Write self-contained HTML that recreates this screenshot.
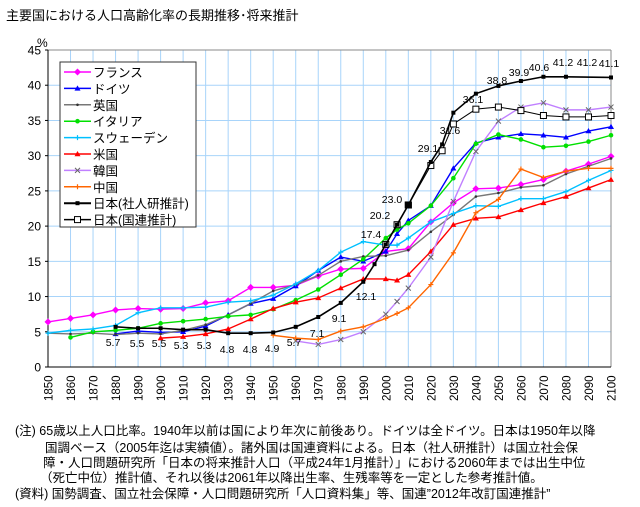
<!DOCTYPE html>
<html><head><meta charset="utf-8"><style>
body{margin:0;background:#fff;width:640px;height:507px;overflow:hidden;font-family:"Liberation Sans","Noto Sans CJK JP",sans-serif;}
.n{position:absolute;font-size:12.5px;white-space:nowrap;color:#000;font-family:"Liberation Sans","Noto Sans CJK JP",sans-serif;}
</style></head><body>
<div class="n" style="left:6px;top:5px;font-size:13px">主要国における人口高齢化率の長期推移･将来推計</div>
<svg id="s" width="640" height="507" style="position:absolute;left:0;top:0" xmlns="http://www.w3.org/2000/svg"></svg>
<div class="n" style="left:15px;top:420px">(注) 65歳以上人口比率。1940年以前は国により年次に前後あり。ドイツは全ドイツ。日本は1950年以降</div>
<div class="n" style="left:45px;top:437px">国調ベース（2005年迄は実績値）。諸外国は国連資料による。日本（社人研推計）は国立社会保</div>
<div class="n" style="left:43px;top:452px">障・人口問題研究所「日本の将来推計人口（平成24年1月推計）」における2060年までは出生中位</div>
<div class="n" style="left:40px;top:467px">（死亡中位）推計値、それ以後は2061年以降出生率、生残率等を一定とした参考推計値。</div>
<div class="n" style="left:15px;top:483px">(資料) 国勢調査、国立社会保障・人口問題研究所「人口資料集」等、国連”2012年改訂国連推計”</div>
<script>
const L=48,R=611,T=50,B=367;
const X=y=>L+(y-1850)*(R-L)/250, Y=v=>B-v*(B-T)/45;
let h='';
for(let y=1860;y<2100;y+=10)h+=`<line x1="${X(y)}" y1="${T}" x2="${X(y)}" y2="${B}" stroke="#a8d4fa" stroke-width="1"/>`;
for(let v=5;v<=40;v+=5)h+=`<line x1="${L}" y1="${Y(v)}" x2="${R}" y2="${Y(v)}" stroke="#a8d4fa" stroke-width="1"/>`;
h+=`<line x1="${L}" y1="${T}" x2="${R}" y2="${T}" stroke="#888"/><line x1="${R}" y1="${T}" x2="${R}" y2="${B}" stroke="#888"/>`;
h+=`<line x1="${L}" y1="${T}" x2="${L}" y2="${B}" stroke="#000"/><line x1="${L}" y1="${B}" x2="${R}" y2="${B}" stroke="#000"/>`;
for(let v=0;v<=45;v+=5){h+=`<line x1="${L-3}" y1="${Y(v)}" x2="${L}" y2="${Y(v)}" stroke="#000"/><text x="${L-7}" y="${Y(v)+4.5}" font-size="12" text-anchor="end">${v}</text>`;}
h+=`<text x="37" y="47" font-size="12">%</text>`;
for(let y=1850;y<=2100;y+=10){h+=`<text transform="translate(${X(y)+4.5},401) rotate(-90)" font-size="11.5">${y}</text>`;}
const S=[
['#ff00ff','dia',[[1850,6.4],[1860,6.9],[1870,7.4],[1880,8.1],[1890,8.3],[1900,8.2],[1910,8.3],[1920,9.1],[1930,9.4],[1940,11.3],[1950,11.3],[1960,11.6],[1970,12.9],[1980,13.9],[1990,14.0],[2000,16.4],[2010,16.8],[2020,20.6],[2030,23.3],[2040,25.3],[2050,25.4],[2060,25.9],[2070,26.6],[2080,27.8],[2090,28.8],[2100,29.9]]],
['#0000ff','tri',[[1880,4.7],[1890,5.1],[1900,4.9],[1910,5.0],[1920,5.8],[1930,7.4],[1940,9.0],[1950,9.7],[1960,11.5],[1970,13.7],[1980,15.6],[1990,15.0],[2000,16.4],[2005,18.9],[2010,20.8],[2020,22.9],[2030,28.2],[2040,31.8],[2050,32.6],[2060,33.1],[2070,32.9],[2080,32.6],[2090,33.5],[2100,34.1]]],
['#777777','dash',[[1850,4.8],[1860,4.7],[1870,4.8],[1880,4.6],[1890,4.8],[1900,4.7],[1910,5.2],[1920,6.0],[1930,7.4],[1940,9.0],[1950,10.8],[1960,11.7],[1970,13.0],[1980,15.0],[1990,15.7],[2000,15.8],[2010,16.6],[2020,19.2],[2030,21.6],[2040,24.2],[2050,24.7],[2060,25.5],[2070,25.8],[2080,27.4],[2090,28.5],[2100,29.6]]],
['#00e000','dot',[[1860,4.2],[1870,5.0],[1880,5.2],[1890,5.5],[1900,6.2],[1910,6.5],[1920,6.8],[1930,7.2],[1940,7.4],[1950,8.2],[1960,9.5],[1970,11.0],[1980,13.1],[1990,15.3],[2000,18.3],[2005,19.5],[2010,20.4],[2020,22.9],[2030,26.8],[2040,31.7],[2050,33.0],[2060,32.3],[2070,31.2],[2080,31.4],[2090,32.0],[2100,32.9]]],
['#00c0ff','plus',[[1850,4.8],[1860,5.2],[1870,5.4],[1880,5.9],[1890,7.7],[1900,8.4],[1910,8.4],[1920,8.5],[1930,9.2],[1940,9.4],[1950,10.2],[1960,11.8],[1970,13.7],[1980,16.3],[1990,17.8],[2000,17.3],[2005,17.3],[2010,18.3],[2020,20.6],[2030,21.8],[2040,22.9],[2050,22.8],[2060,23.9],[2070,23.9],[2080,24.9],[2090,26.5],[2100,27.9]]],
['#ff0000','tri',[[1900,4.1],[1910,4.3],[1920,4.7],[1930,5.4],[1940,6.8],[1950,8.3],[1960,9.2],[1970,9.8],[1980,11.2],[1990,12.5],[2000,12.5],[2005,12.3],[2010,13.1],[2020,16.4],[2030,20.2],[2040,21.1],[2050,21.3],[2060,22.3],[2070,23.3],[2080,24.2],[2090,25.4],[2100,26.6]]],
['#c080ff','x',[[1960,3.7],[1970,3.2],[1980,3.9],[1990,5.0],[2000,7.5],[2005,9.3],[2010,11.2],[2020,15.6],[2030,23.5],[2040,30.6],[2050,34.9],[2060,36.9],[2070,37.5],[2080,36.5],[2090,36.5],[2100,36.9]]],
['#ff6600','plus',[[1950,4.5],[1960,4.1],[1970,3.9],[1980,5.1],[1990,5.7],[2000,6.9],[2005,7.6],[2010,8.4],[2020,11.7],[2030,16.2],[2040,21.9],[2050,23.8],[2060,28.1],[2070,26.9],[2080,27.8],[2090,28.2],[2100,28.2]]],
['#000000','sq',[[2000,17.4],[2005,20.2],[2010,23.0],[2020,28.6],[2025,30.7],[2030,34.5],[2040,36.6],[2050,36.9],[2060,36.4],[2070,35.7],[2080,35.5],[2090,35.5],[2100,35.7]]],
['#000000','fsq',[[1880,5.7],[1890,5.5],[1900,5.5],[1910,5.3],[1920,5.3],[1930,4.8],[1940,4.8],[1950,4.9],[1960,5.7],[1970,7.1],[1980,9.1],[1990,12.1],[1995,14.6],[2000,17.4],[2005,20.2],[2010,23.0],[2020,29.1],[2025,31.6],[2030,36.1],[2040,38.8],[2050,39.9],[2060,40.6],[2070,41.2],[2080,41.2],[2100,41.1]]]
];
function mk(t,c,x,y){
 if(t=='dia')return `<path d="M${x} ${y-3.5}L${x+3.5} ${y}L${x} ${y+3.5}L${x-3.5} ${y}Z" fill="${c}"/>`;
 if(t=='tri')return `<path d="M${x} ${y-3}L${x+3} ${y+2.2}L${x-3} ${y+2.2}Z" fill="${c}"/>`;
 if(t=='dot'||t=='dash')return `<circle cx="${x}" cy="${y}" r="${t=='dot'?2.3:1.3}" fill="${t=='dash'?'#333':c}"/>`;
 if(t=='plus')return `<path d="M${x-2.5} ${y}H${x+2.5}M${x} ${y-2.5}V${y+2.5}" stroke="${c}" stroke-width="1.2"/>`;
 if(t=='x')return `<path d="M${x-2.5} ${y-2.5}L${x+2.5} ${y+2.5}M${x+2.5} ${y-2.5}L${x-2.5} ${y+2.5}" stroke="#666" stroke-width="1"/>`;
 if(t=='sq')return `<rect x="${x-3}" y="${y-3}" width="6" height="6" fill="#fff" stroke="#000"/>`;
 if(t=='fsq')return `<rect x="${x-2}" y="${y-2}" width="4" height="4" fill="#000"/>`;
}
for(const [c,t,d] of S){
 const w=t=='sq'?1:(t=='fsq'?1.6:1.4);
 h+=`<polyline fill="none" stroke="${c}" stroke-width="${w}" points="${d.map(p=>X(p[0])+','+Y(p[1])).join(' ')}"/>`;
 for(const p of d)h+=mk(t,c,X(p[0]),Y(p[1]));
}
h+=`<rect x="${X(2010)-3.5}" y="${Y(23)-3.5}" width="7" height="7" fill="#000"/>`;
const lb=[[113,342,'5.7'],[137,343,'5.5'],[159,343,'5.5'],[181,345,'5.3'],[204,345,'5.3'],[227,349,'4.8'],[250,349,'4.8'],[272,348,'4.9'],[294,342,'5.7'],[317,333,'7.1'],[339,318,'9.1'],[366,296,'12.1'],[371,234,'17.4'],[380,215,'20.2'],[392,199,'23.0'],[428,148,'29.1'],[450,130,'31.6'],[473,99,'36.1'],[497,80,'38.8'],[519,72,'39.9'],[539,67,'40.6'],[563,62,'41.2'],[587,62,'41.2'],[609,63,'41.1']];
for(const [x,y,t] of lb)h+=`<text x="${x}" y="${y+4}" font-size="10.5" text-anchor="middle">${t}</text>`;
h+=`<rect x="60" y="62" width="136" height="165" fill="#fff" stroke="#333"/>`;
const names=['フランス','ドイツ','英国','イタリア','スウェーデン','米国','韓国','中国','日本(社人研推計)','日本(国連推計)'];
const order=[0,1,2,3,4,5,6,7,9,8];
names.forEach((n,i)=>{const y=72+i*16.4;const [c,t]=S[order[i]];
 h+=`<line x1="64" y1="${y}" x2="91" y2="${y}" stroke="${c}" stroke-width="${t=='fsq'?2:1.5}"/>`+mk(t,c,77.5,y)+`<text x="93" y="${y+5}" font-size="12.5">${n}</text>`;});
document.getElementById('s').innerHTML=h;
</script>
</body></html>
